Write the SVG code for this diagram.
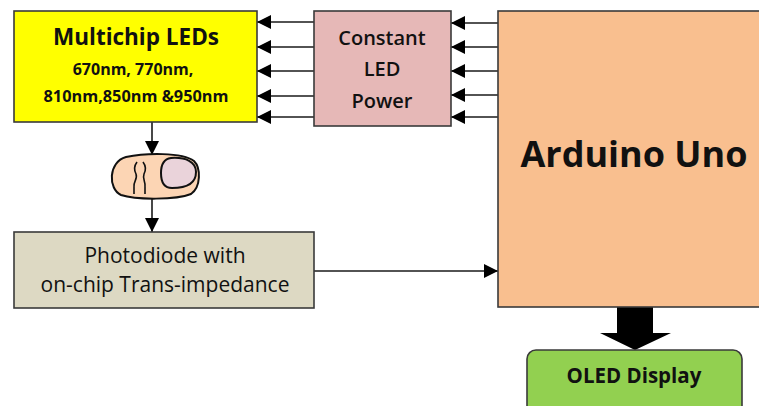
<svg xmlns="http://www.w3.org/2000/svg" width="759" height="406" viewBox="0 0 759 406">
<defs>
<style>
.box{stroke:#3a3a3a;stroke-width:1.6}
.wire{stroke:#1a1a1a;stroke-width:1.6;fill:none}
.t{font-family:"Open Sans","DejaVu Sans",sans-serif;fill:#111;text-anchor:middle}
.b{font-weight:700}
.sb{font-weight:600}
</style>
<marker id="ah" markerUnits="userSpaceOnUse" markerWidth="15" markerHeight="15" refX="14" refY="7" orient="auto">
<path d="M0,0 L14,7 L0,14 Z" fill="#000"/>
</marker>
</defs>
<rect width="759" height="406" fill="#fff"/>

<g id="connectors">
<line class="wire" x1="314" y1="22" x2="257" y2="22" marker-end="url(#ah)"/>
<line class="wire" x1="314" y1="47" x2="257" y2="47" marker-end="url(#ah)"/>
<line class="wire" x1="314" y1="71" x2="257" y2="71" marker-end="url(#ah)"/>
<line class="wire" x1="314" y1="96" x2="257" y2="96" marker-end="url(#ah)"/>
<line class="wire" x1="314" y1="117" x2="257" y2="117" marker-end="url(#ah)"/>
<line class="wire" x1="498" y1="23" x2="451" y2="23" marker-end="url(#ah)"/>
<line class="wire" x1="498" y1="47" x2="451" y2="47" marker-end="url(#ah)"/>
<line class="wire" x1="498" y1="71" x2="451" y2="71" marker-end="url(#ah)"/>
<line class="wire" x1="498" y1="95" x2="451" y2="95" marker-end="url(#ah)"/>
<line class="wire" x1="498" y1="117" x2="451" y2="117" marker-end="url(#ah)"/>
<line class="wire" x1="152" y1="122" x2="152" y2="155" marker-end="url(#ah)"/>
<line class="wire" x1="152" y1="198" x2="152" y2="232" marker-end="url(#ah)"/>
<line class="wire" x1="314" y1="271" x2="498" y2="271" marker-end="url(#ah)"/>
<path d="M617,307 L653,307 L653,333 L671,333 L635,350 L600,333 L617,333 Z" fill="#000"/>
</g>

<g id="leds">
<rect class="box" x="14" y="11" width="243" height="111" fill="#ffff00"/>
<text class="t b" x="136" y="45" font-size="22.5">Multichip LEDs</text>
<text class="t b" x="133" y="75" font-size="16">670nm, 770nm,</text>
<text class="t b" x="136" y="102" font-size="16.3">810nm,850nm &amp;950nm</text>
</g>

<g id="power">
<rect class="box" x="314" y="11" width="137" height="115" fill="#e6b8b7"/>
<text class="t sb" x="382" y="45" font-size="20">Constant</text>
<text class="t sb" x="382" y="76" font-size="20">LED</text>
<text class="t sb" x="382" y="108" font-size="20">Power</text>
</g>

<g id="arduino">
<rect class="box" x="498" y="11" width="262" height="296" fill="#f9bf8f"/>
<text class="t b" x="634" y="167" font-size="36">Arduino Uno</text>
</g>

<g id="finger">
<path d="M126,157 C145,153 182,152 194,161 C201,168 201,187 191,194 C176,200 136,200 121,195 C108,189 108,162 126,157 Z" fill="#fcd5b4" stroke="#111" stroke-width="2"/>
<path d="M171,158 C186,157 196,162 196,172 C196,183 188,188 172,188 C163,188 161,181 161,173 C161,164 164,159 171,158 Z" fill="#ead3da" stroke="#111" stroke-width="2"/>
<path d="M137,162 C134,166 134,170 136,174 C138,179 133,182 134,187 L134,194" fill="none" stroke="#111" stroke-width="1.6"/>
<path d="M143,162 C146,166 146,170 144,174 C142,179 146,182 145,187 L145,194" fill="none" stroke="#111" stroke-width="1.6"/>
</g>

<g id="photodiode">
<rect class="box" x="14" y="232" width="300" height="76" fill="#ddd9c3"/>
<text class="t" x="165" y="263" font-size="21" font-weight="500">Photodiode with</text>
<text class="t" x="165" y="292" font-size="21" font-weight="500">on-chip Trans-impedance</text>
</g>

<g id="oled">
<rect class="box" x="527" y="350" width="215" height="70" rx="9" fill="#92d050"/>
<text class="t b" x="634" y="383" font-size="20.5">OLED Display</text>
</g>
</svg>
